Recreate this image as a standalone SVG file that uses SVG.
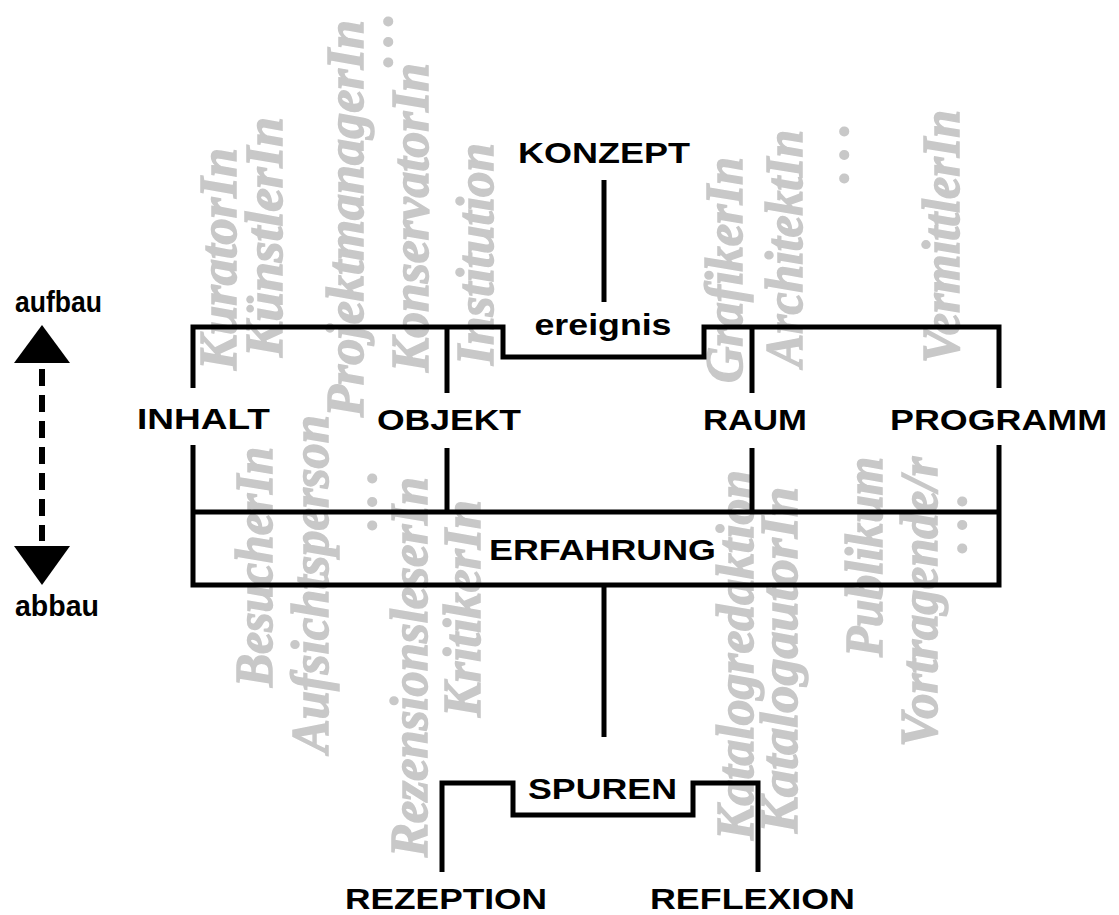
<svg xmlns="http://www.w3.org/2000/svg" width="1119" height="915" viewBox="0 0 1119 915">
<style>
.role{font-family:"Liberation Serif","DejaVu Serif",serif;font-style:italic;font-weight:bold;font-size:52px;fill:#c8c8c8;stroke:#c8c8c8;stroke-width:1.5}
.lbl{font-family:"Liberation Sans",Arial,sans-serif;font-weight:bold;font-size:30px;fill:#000}
.ln{fill:none;stroke:#000;stroke-width:5;stroke-linejoin:miter;stroke-linecap:butt}
</style>
<rect width="1119" height="915" fill="#fff"/>
<g id="roles">
<text class="role" transform="translate(236,370) rotate(-90)" textLength="222" lengthAdjust="spacingAndGlyphs">KuratorIn</text>
<text class="role" transform="translate(282,357) rotate(-90)" textLength="240" lengthAdjust="spacingAndGlyphs">KünstlerIn</text>
<text class="role" transform="translate(363,417) rotate(-90)" textLength="397" lengthAdjust="spacingAndGlyphs">ProjektmanagerIn</text>
<text class="role" transform="translate(392,67) rotate(-90)" textLength="54" lengthAdjust="spacing">...</text>
<text class="role" transform="translate(428,372) rotate(-90)" textLength="309" lengthAdjust="spacingAndGlyphs">KonservatorIn</text>
<text class="role" transform="translate(493,365) rotate(-90)" textLength="222" lengthAdjust="spacingAndGlyphs">Institution</text>
<text class="role" transform="translate(742,383) rotate(-90)" textLength="226" lengthAdjust="spacingAndGlyphs">GrafikerIn</text>
<text class="role" transform="translate(802,367) rotate(-90)" textLength="237" lengthAdjust="spacingAndGlyphs">ArchitektIn</text>
<text class="role" transform="translate(848,183) rotate(-90)" textLength="60" lengthAdjust="spacing">...</text>
<text class="role" transform="translate(959,363) rotate(-90)" textLength="253" lengthAdjust="spacingAndGlyphs">VermittlerIn</text>
<text class="role" transform="translate(272,687) rotate(-90)" textLength="240" lengthAdjust="spacingAndGlyphs">BesucherIn</text>
<text class="role" transform="translate(328,753) rotate(-90)" textLength="338" lengthAdjust="spacingAndGlyphs">Aufsichtsperson</text>
<text class="role" transform="translate(376,530) rotate(-90)" textLength="60" lengthAdjust="spacing">...</text>
<text class="role" transform="translate(427,857) rotate(-90)" textLength="380" lengthAdjust="spacingAndGlyphs">RezensionsleserIn</text>
<text class="role" transform="translate(480,717) rotate(-90)" textLength="217" lengthAdjust="spacingAndGlyphs">KritikerIn</text>
<text class="role" transform="translate(753,840) rotate(-90)" textLength="370" lengthAdjust="spacingAndGlyphs">Katalogredaktion</text>
<text class="role" transform="translate(797,833) rotate(-90)" textLength="346" lengthAdjust="spacingAndGlyphs">KatalogautorIn</text>
<text class="role" transform="translate(882,657) rotate(-90)" textLength="200" lengthAdjust="spacingAndGlyphs">Publikum</text>
<text class="role" transform="translate(937,747) rotate(-90)" textLength="290" lengthAdjust="spacingAndGlyphs">Vortragende/r</text>
<text class="role" transform="translate(966,553) rotate(-90)" textLength="60" lengthAdjust="spacing">...</text>
</g>
<g id="connectors">
<path class="ln" d="M604,180 V302"/>
<path class="ln" d="M447,327 V393 M447,448 V512"/>
<path class="ln" d="M752,327 V393 M752,448 V512"/>
<path class="ln" d="M604,585 V737"/>
</g>
<g id="konzept"><text class="lbl" x="604" y="163" text-anchor="middle" textLength="172" lengthAdjust="spacingAndGlyphs">KONZEPT</text></g>
<g id="ereignis">
<path class="ln" d="M193,388 V327 H503 V357 H704 V327 H999 V388"/>
<text class="lbl" x="603" y="335" text-anchor="middle" textLength="137" lengthAdjust="spacingAndGlyphs">ereignis</text>
</g>
<g id="inhalt"><text class="lbl" x="137" y="429" textLength="133" lengthAdjust="spacingAndGlyphs">INHALT</text></g>
<g id="objekt"><text class="lbl" x="377" y="430" textLength="144" lengthAdjust="spacingAndGlyphs">OBJEKT</text></g>
<g id="raum"><text class="lbl" x="703" y="430" textLength="104" lengthAdjust="spacingAndGlyphs">RAUM</text></g>
<g id="programm"><text class="lbl" x="890" y="430" textLength="217" lengthAdjust="spacingAndGlyphs">PROGRAMM</text></g>
<g id="erfahrung">
<path class="ln" d="M193,445 V585 H999 V445 M193,512 H999"/>
<text class="lbl" x="489" y="560" textLength="227" lengthAdjust="spacingAndGlyphs">ERFAHRUNG</text>
</g>
<g id="spuren">
<path class="ln" d="M442,872 V783 H513 V815 H693 V783 H758 V872"/>
<text class="lbl" x="528" y="799" textLength="149" lengthAdjust="spacingAndGlyphs">SPUREN</text>
</g>
<g id="rezeption"><text class="lbl" x="345" y="909" font-size="29" textLength="202" lengthAdjust="spacingAndGlyphs">REZEPTION</text></g>
<g id="reflexion"><text class="lbl" x="650" y="909" font-size="29" textLength="205" lengthAdjust="spacingAndGlyphs">REFLEXION</text></g>
<g id="axis">
<text class="lbl" x="15" y="312" font-size="27" textLength="87" lengthAdjust="spacingAndGlyphs">aufbau</text>
<polygon points="42,325 14,363 70,363" fill="#000"/>
<line x1="42" y1="369" x2="42" y2="541" stroke="#000" stroke-width="6" stroke-dasharray="17 9"/>
<polygon points="14,546 70,546 42,585" fill="#000"/>
<text class="lbl" x="15" y="616" font-size="27" textLength="84" lengthAdjust="spacingAndGlyphs">abbau</text>
</g>
</svg>
